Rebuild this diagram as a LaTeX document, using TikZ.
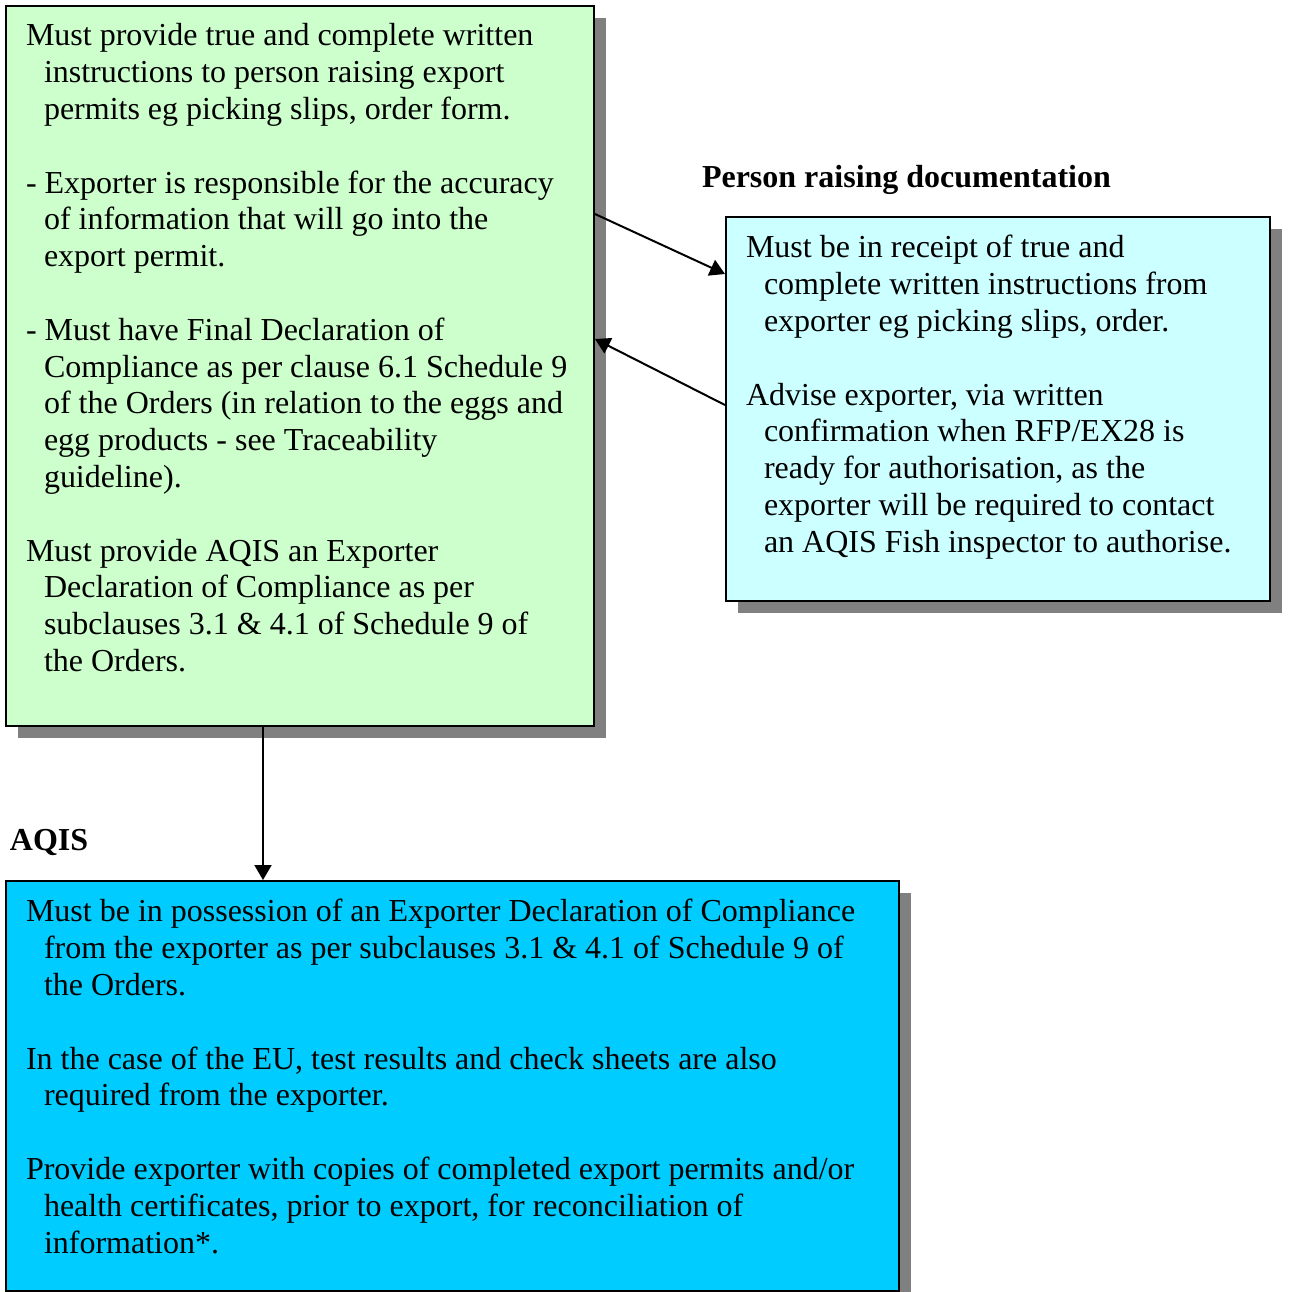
\documentclass[tikz,border=0pt]{standalone}
\usepackage{fontspec}
\setmainfont{Liberation Serif}
\usetikzlibrary{arrows.meta}
\usetikzlibrary{shadows}

\definecolor{exgreen}{RGB}{204,255,204}
\definecolor{docblue}{RGB}{204,255,255}
\definecolor{aqisblue}{RGB}{0,204,255}
\definecolor{shadowgray}{RGB}{128,128,128}

\newcommand{\hp}{\par\spaceskip=4pt\relax\hangindent=9pt\hangafter=1 }
\newcommand{\gap}{\par\vskip18.4pt}

\begin{document}
\begin{tikzpicture}[x=0.5pt,y=-0.5pt,>/.tip={Triangle[length=7.5pt,width=8.5pt]},line width=1pt,
	box/.style={draw=black,anchor=north west,inner sep=0pt,
		drop shadow={shadow xshift=6pt,shadow yshift=-6pt,fill=shadowgray,opacity=1}},
	boxtext/.style={anchor=north west,inner sep=0pt,align=left,text width=#1,
		font=\fontsize{16pt}{18.4pt}\selectfont},
	heading/.style={anchor=base west,inner sep=0pt,font=\fontsize{16pt}{18.4pt}\selectfont\bfseries}]
	\useasboundingbox (0,0) rectangle (1290,1292);

	\node (exporter) [box,fill=exgreen,minimum width=294pt,minimum height=360pt] at (5,5) {};
	\node (extext) [boxtext=285pt] at (25,8) {%
		\hp Must provide true and complete written\newline instructions to person raising export\newline permits eg picking slips, order form.\gap
		\hp - Exporter is responsible for the accuracy\newline of information that will go into the\newline export permit.\gap
		\hp - Must have Final Declaration of\newline Compliance as per clause 6.1 Schedule 9\newline of the Orders (in relation to the eggs and\newline egg products - see Traceability\newline guideline).\gap
		\hp Must provide AQIS an Exporter\newline Declaration of Compliance as per\newline subclauses 3.1 \& 4.1 of Schedule 9 of\newline the Orders.\par};

	\node (raiserhead) [heading] at (701,187) {Person raising documentation};
	\node (raiser) [box,fill=docblue,minimum width=272pt,minimum height=192pt] at (725,216) {};
	\node (raisertext) [boxtext=260pt] at (745,220) {%
		\hp Must be in receipt of true and\newline complete written instructions from\newline exporter eg picking slips, order.\gap
		\hp Advise exporter, via written\newline confirmation when RFP/EX28 is\newline ready for authorisation, as the\newline exporter will be required to contact\newline an AQIS Fish inspector to authorise.\par};

	\node (aqishead) [heading] at (9,850) {AQIS};
	\node (aqis) [box,fill=aqisblue,minimum width=446.5pt,minimum height=205pt] at (5,880) {};
	\node (aqistext) [boxtext=435pt] at (25,884) {%
		\hp Must be in possession of an Exporter Declaration of Compliance\newline from the exporter as per subclauses 3.1 \& 4.1 of Schedule 9 of\newline the Orders.\gap
		\hp In the case of the EU, test results and check sheets are also\newline required from the exporter.\gap
		\hp Provide exporter with copies of completed export permits and/or\newline health certificates, prior to export, for reconciliation of\newline information*.\par};

	\draw[->] ([yshift=-104.5pt]exporter.north east) -- ([yshift=-29pt]raiser.north west);
	\draw[->] ([yshift=-94.5pt]raiser.north west) -- ([yshift=-167pt]exporter.north east);
	\draw[->] ([xshift=129pt]exporter.south west) -- ([xshift=129pt]aqis.north west);
\end{tikzpicture}
\end{document}
